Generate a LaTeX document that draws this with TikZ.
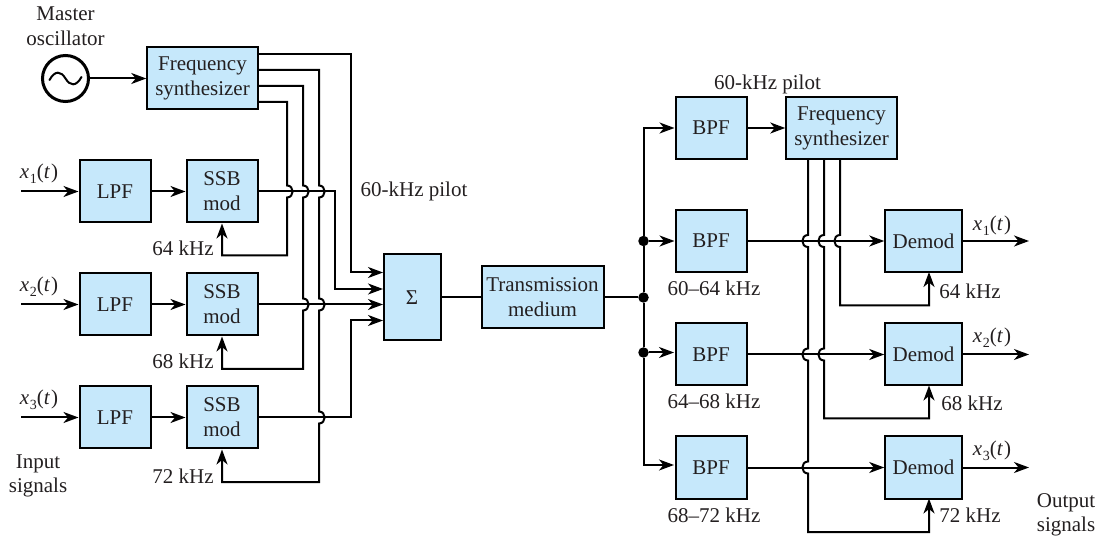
\documentclass[tikz,border=0pt]{standalone}
\usepackage{fontspec}
\setmainfont{Liberation Serif}
\usetikzlibrary{arrows.meta,calc}
\definecolor{boxblue}{HTML}{C6E8FB}
\definecolor{inkc}{HTML}{231F20}
\newcommand{\sig}[1]{\textit{x}\kern0.5pt\raisebox{-0.22em}{\fontsize{14}{14}\selectfont #1}(\textit{t}\kern1pt)}
% vertical line bulging right / left around a horizontal one
\newcommand{\hopR}[2]{-- (#1,#2-6) .. controls (#1+7.5,#2-6) and (#1+7.5,#2+6) .. (#1,#2+6)}
\newcommand{\hopL}[2]{-- (#1,#2-6) .. controls (#1-7.5,#2-6) and (#1-7.5,#2+6) .. (#1,#2+6)}
\tikzset{
  blockbox/.style={draw=black,line width=2pt,fill=boxblue,text=inkc,align=center,inner sep=0pt,
    font=\fontsize{21}{25}\selectfont},
  lpfbox/.style={blockbox,minimum width=71pt,minimum height=62pt},
  fsbox/.style={blockbox,minimum width=110.5pt,minimum height=62pt},
  demodbox/.style={blockbox,minimum width=76.5pt,minimum height=62pt},
  txt/.style={anchor=base,text=inkc,inner sep=0pt,font=\fontsize{21}{25}\selectfont},
  dotn/.style={circle,fill=black,inner sep=0pt,minimum size=10.5pt},
  wire/.style={line width=2pt,draw=black,line join=miter},
  sigwire/.style={wire,-{Stealth[length=15pt,width=11pt,inset=4.5pt]}},
}
\begin{document}
\begin{tikzpicture}[x=1pt,y=-1pt]
\useasboundingbox (0,0) rectangle (1112,537);
% left blocks
\node[circle,draw=black,line width=3pt,minimum size=46pt,inner sep=0pt] (osc) at (65.5,78.5) {};
\draw[line width=2pt,line cap=round] (49.5,80) .. controls (55,70) and (61,71) .. (65.5,78.5) .. controls (70,86) and (76,87) .. (81.5,77);
\node[fsbox] (fs1) at (202.5,78.5) {Frequency\\synthesizer};
\node[lpfbox] (lpf1) at (115,191.5) {LPF};
\node[lpfbox] (ssb1) at (222,191.5) {SSB\\mod};
\node[lpfbox] (lpf2) at (115,304.5) {LPF};
\node[lpfbox] (ssb2) at (222,304.5) {SSB\\mod};
\node[lpfbox] (lpf3) at (115,417.5) {LPF};
\node[lpfbox] (ssb3) at (222,417.5) {SSB\\mod};
\node[blockbox,minimum width=57pt,minimum height=86pt] (sum) at (412,297.5) {Σ};
\node[blockbox,minimum width=122pt,minimum height=62pt] (tm) at (542.5,297.5) {Transmission\\medium};
% right blocks
\node[lpfbox] (bpf1) at (711,128) {BPF};
\node[lpfbox] (bpf2) at (711,241) {BPF};
\node[lpfbox] (bpf3) at (711,354.5) {BPF};
\node[lpfbox] (bpf4) at (711,467.5) {BPF};
\node[fsbox] (fs2) at (841.5,128) {Frequency\\synthesizer};
\node[demodbox] (dem1) at (923.5,241) {Demod};
\node[demodbox] (dem2) at (923.5,354.5) {Demod};
\node[demodbox] (dem3) at (923.5,467.5) {Demod};
% named ends
\coordinate (in1) at (21,191.5);
\coordinate (in2) at (21,304.5);
\coordinate (in3) at (21,417.5);
\coordinate (out1) at (1029,241);
\coordinate (out2) at (1029,354.5);
\coordinate (out3) at (1029,467.5);
\coordinate (fa) at (258,54);
\coordinate (fb) at (258,70);
\coordinate (fc) at (258,86);
\coordinate (fd) at (258,102);
\coordinate (s1) at (383,272.5);
\coordinate (s2) at (383,289);
\coordinate (s3) at (383,304.5);
\coordinate (s4) at (383,320.5);
% left connectors
\draw[sigwire] (osc.east) -- (fs1.west);
\foreach \k in {1,2,3}{
  \draw[sigwire] (in\k) -- (lpf\k.west);
  \draw[sigwire] (lpf\k.east) -- (ssb\k.west);
}
\draw[sigwire] (fa) -- (351,54) -- (351,272.5) -- (s1);
\draw[sigwire] (fd) -- (287,102) \hopR{287}{191.5} -- (287,255.5) -- (222,255.5) -- (ssb1.south);
\draw[sigwire] (fc) -- (303,86) \hopR{303}{191.5} \hopR{303}{304.5} -- (303,369) -- (222,369) -- (ssb2.south);
\draw[sigwire] (fb) -- (319,70) \hopR{319}{191.5} \hopR{319}{304.5} \hopR{319}{417.5} -- (319,482) -- (222,482) -- (ssb3.south);
\draw[sigwire] (ssb1.east) -- (335,191.5) -- (335,289) -- (s2);
\draw[sigwire] (ssb2.east) -- (s3);
\draw[sigwire] (ssb3.east) -- (351,417.5) -- (351,320.5) -- (s4);
\draw[wire] (sum.east) -- (tm.west);
% bus
\node[dotn] (j1) at (643.5,241) {};
\node[dotn] (j2) at (643.5,297.5) {};
\node[dotn] (j3) at (643.5,352.5) {};
\draw[wire] (tm.east) -- (j2);
\draw[sigwire] (j1) -- (643.5,128) -- (bpf1.west);
\draw[wire] (j1) -- (j2) -- (j3);
\draw[sigwire] (j3) -- (643.5,465) -- (674,465);
\draw[sigwire] (j1) -- (bpf2.west);
\draw[sigwire] (j3) -- (674,352.5);
% right connectors
\draw[sigwire] (bpf1.east) -- (fs2.west);
\draw[sigwire] (bpf2.east) -- (dem1.west);
\draw[sigwire] (bpf3.east) -- (dem2.west);
\draw[sigwire] (bpf4.east) -- (dem3.west);
\draw[sigwire] (dem1.east) -- (out1);
\draw[sigwire] (dem2.east) -- (out2);
\draw[sigwire] (dem3.east) -- (out3);
\draw[sigwire] (840,159) \hopL{840}{241} -- (840,305.5) -- (929,305.5) -- (929,272);
\draw[sigwire] (824,159) \hopL{824}{241} \hopL{824}{354.5} -- (824,418.5) -- (929,418.5) -- (929,385.5);
\draw[sigwire] (808,159) \hopL{808}{241} \hopL{808}{354.5} \hopL{808}{467.5} -- (808,532) -- (929,532) -- (929,498.5);
% labels
\node[txt] (t1) at (65.5,21) {Master};
\node[txt] (t2) at (65.5,46) {oscillator};
\node[txt] (t3) at (38,468) {Input};
\node[txt] (t4) at (38,493) {signals};
\node[txt] (t5) at (39,179) {\sig{1}};
\node[txt] (t6) at (39,292) {\sig{2}};
\node[txt] (t7) at (39,405) {\sig{3}};
\node[txt] (t8) at (183,256) {64 kHz};
\node[txt] (t9) at (183,369) {68 kHz};
\node[txt] (t10) at (183,483) {72 kHz};
\node[txt] (t11) at (414,197) {60-kHz pilot};
\node[txt] (t12) at (767.5,90) {60-kHz pilot};
\node[txt] (t13) at (714,296) {60–64 kHz};
\node[txt] (t14) at (714,409) {64–68 kHz};
\node[txt] (t15) at (714,522) {68–72 kHz};
\node[txt] (t16) at (970,299) {64 kHz};
\node[txt] (t17) at (972,411) {68 kHz};
\node[txt] (t18) at (970,522) {72 kHz};
\node[txt] (t19) at (992,231) {\sig{1}};
\node[txt] (t20) at (992,343) {\sig{2}};
\node[txt] (t21) at (992,456) {\sig{3}};
\node[txt] (t22) at (1066,507) {Output};
\node[txt] (t23) at (1066,531) {signals};
\end{tikzpicture}
\end{document}
